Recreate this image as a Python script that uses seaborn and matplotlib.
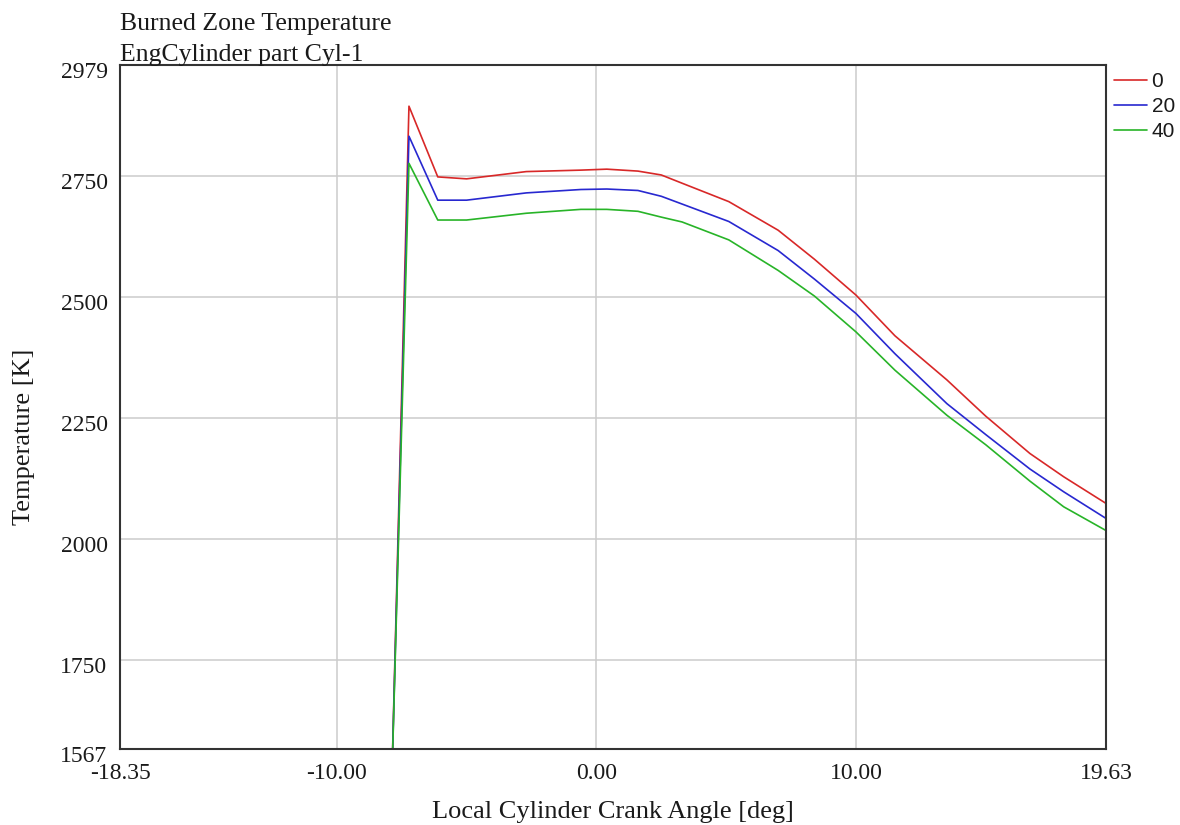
import pandas as pd
import seaborn as sns
import matplotlib.pyplot as plt
from matplotlib.transforms import ScaledTranslation

# crank angle [deg]
crank_angle = [-7.9, -7.22, -6.11, -5.0, -2.7, -0.6, 0.4, 1.6, 2.5, 3.3,
               5.1, 7.0, 8.4, 10.0, 11.5, 13.5, 15.0, 16.7, 18.0, 19.63]

# burned zone temperature [K] per case
temp_0 = [1460, 2894, 2748, 2744, 2759, 2762, 2764, 2760, 2752, 2735,
          2697, 2638, 2578, 2504, 2420, 2329, 2254, 2177, 2129, 2074]
temp_20 = [1460, 2832, 2700, 2700, 2715, 2722, 2723, 2720, 2708, 2692,
           2656, 2596, 2537, 2466, 2383, 2280, 2216, 2145, 2098, 2043]
temp_40 = [1460, 2776, 2659, 2659, 2673, 2681, 2681, 2677, 2665, 2655,
           2618, 2555, 2502, 2428, 2349, 2256, 2195, 2120, 2067, 2018]

case_names = ['0', '20', '40']
case_colors = ['#d82828', '#2828d0', '#28b428']

x_ticks = [-18.35, -10.0, 0.0, 10.0, 19.63]
y_ticks = [1567, 1750, 2000, 2250, 2500, 2750, 2979]

df = pd.DataFrame({
    'angle': crank_angle * 3,
    'temp': temp_0 + temp_20 + temp_40,
    'case': [c for c in case_names for _ in crank_angle],
})

sns.set_style('white')
plt.rcParams['font.family'] = ['Liberation Serif', 'DejaVu Serif']

fig = plt.figure(figsize=(11.8, 8.25), dpi=100)
ax = fig.add_axes([0.1017, 0.0921, 0.8356, 0.8291])

# grid only at inner ticks
for v in [-10.0, 0.0, 10.0]:
    ax.axvline(v, color='#cccccc', lw=1.1, zorder=0)
for v in y_ticks[1:-1]:
    ax.axhline(v, color='#cccccc', lw=1.1, zorder=0)

sns.lineplot(data=df, x='angle', y='temp', hue='case', hue_order=case_names,
             palette=case_colors, estimator=None, lw=1.2, ax=ax)

ax.set_xlim(x_ticks[0], x_ticks[-1])
ax.set_ylim(y_ticks[0], y_ticks[-1])
ax.set_xticks(x_ticks)
ax.set_xticklabels([f'{v:.2f}' for v in x_ticks])
ax.set_yticks(y_ticks)
ax.tick_params(length=0, labelsize=17, colors='#1a1a1a')
ax.tick_params(axis='x', pad=10)
ax.tick_params(axis='y', pad=9)

# y tick labels sit a few pixels below their gridlines in the original
shift = ScaledTranslation(0, -5 / 100, fig.dpi_scale_trans)
for lbl in ax.get_yticklabels():
    lbl.set_transform(lbl.get_transform() + shift)

for s in ax.spines.values():
    s.set_color('#333333')
    s.set_linewidth(1.5)

ax.set_xlabel('Local Cylinder Crank Angle [deg]', fontsize=19, color='#1a1a1a', labelpad=12)
ax.set_ylabel('Temperature [K]', fontsize=19, color='#1a1a1a')
ax.yaxis.set_label_coords(-0.086, 0.456)

fig.text(120 / 1180, 1 - 30 / 825, 'Burned Zone Temperature', ha='left',
         va='baseline', fontsize=18.5, color='#1a1a1a')
fig.text(120 / 1180, 1 - 61 / 825, 'EngCylinder part Cyl-1', ha='left',
         va='baseline', fontsize=18.5, color='#1a1a1a')

leg = ax.legend(loc='upper left', bbox_to_anchor=(1.004, 0.996), frameon=False,
                prop={'family': 'Liberation Sans', 'size': 15},
                handlelength=1.6, handletextpad=0.2, labelspacing=0.3,
                borderaxespad=0.0, borderpad=0.2)
for t in leg.get_texts():
    t.set_color('#1a1a1a')

plt.savefig('out.png', dpi=100)
